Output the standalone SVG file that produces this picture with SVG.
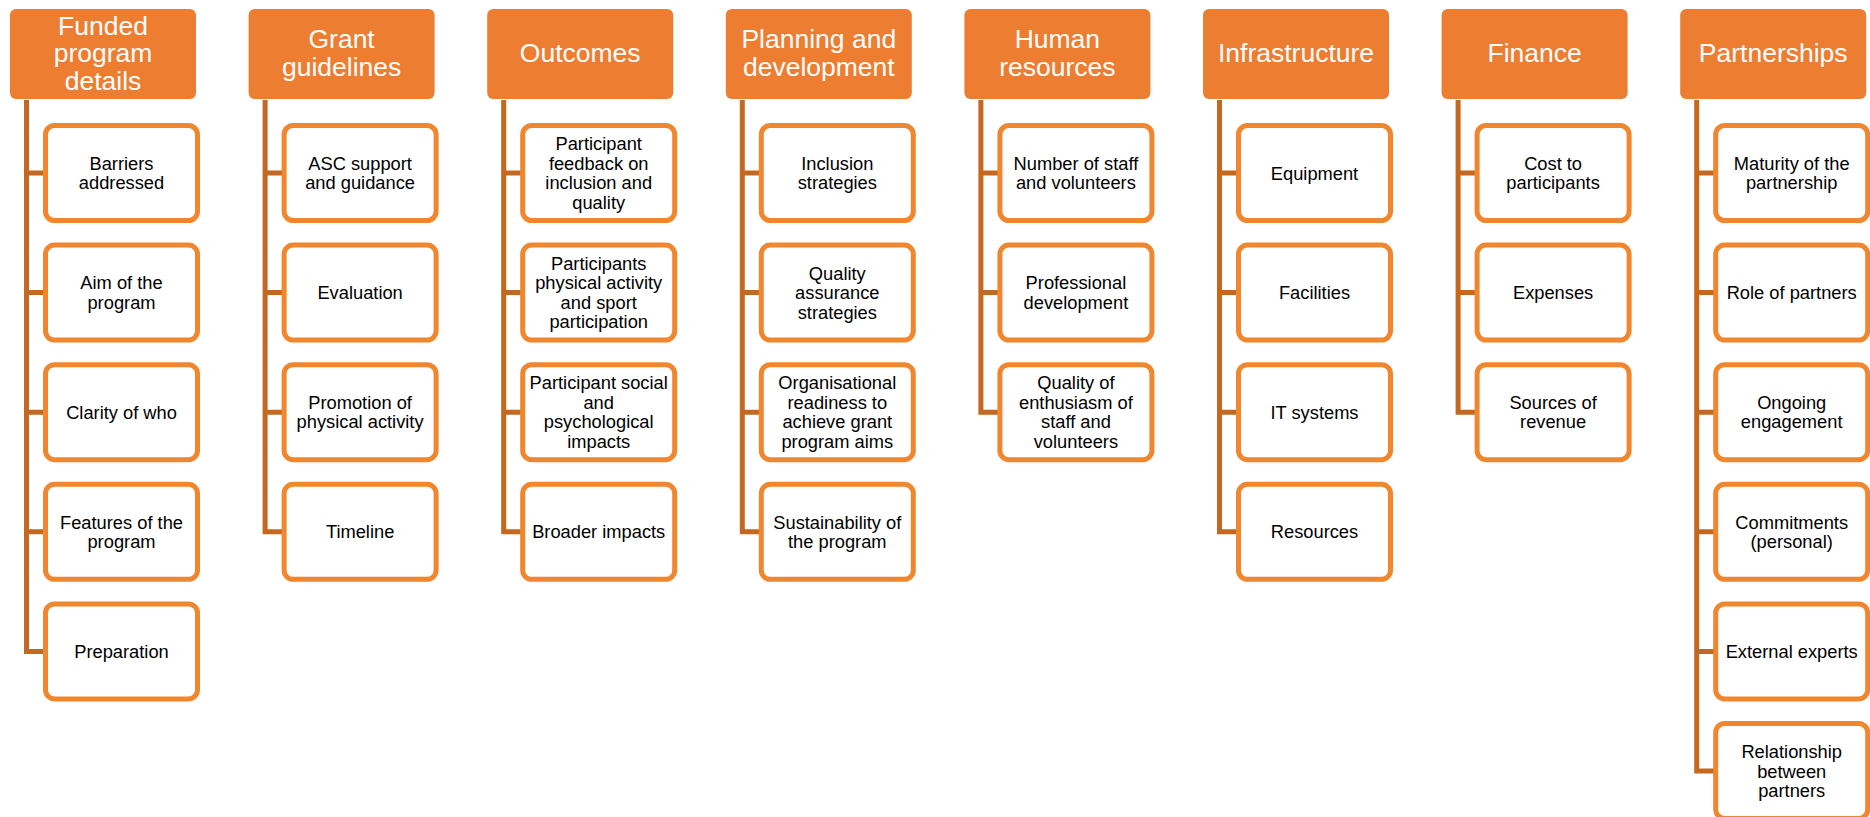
<svg xmlns="http://www.w3.org/2000/svg" width="1870" height="817" viewBox="0 0 1870 817">
  <style>
    .head { fill: #ED7D31; }
    .head-t { fill: #FFFFFF; font-family: "Liberation Sans", Arial, sans-serif; font-size: 26.5px; text-anchor: middle; }
    .item { fill: #FFFFFF; stroke: #F0862E; stroke-width: 5; }
    .item-t { fill: #000000; font-family: "Liberation Sans", Arial, sans-serif; font-size: 18.3px; text-anchor: middle; }
    .link { fill: none; stroke: #C4671F; stroke-width: 5; stroke-linecap: butt; stroke-linejoin: miter; }
  </style>

  <rect width="1870" height="817" fill="#FFFFFF"/>

  <!-- tree lines: one trunk per column, one branch per item -->
  <g id="connectors" class="link">
    <path d="M26.5 100 V653.9 M26.5 173 H46 M26.5 292.6 H46 M26.5 412.2 H46 M26.5 531.8 H46 M26.5 651.4 H46"/>
    <path d="M265.1 100 V534.3 M265.1 173 H285 M265.1 292.6 H285 M265.1 412.2 H285 M265.1 531.8 H285"/>
    <path d="M503.7 100 V534.3 M503.7 173 H523 M503.7 292.6 H523 M503.7 412.2 H523 M503.7 531.8 H523"/>
    <path d="M742.3 100 V534.3 M742.3 173 H762 M742.3 292.6 H762 M742.3 412.2 H762 M742.3 531.8 H762"/>
    <path d="M980.9 100 V414.7 M980.9 173 H1000 M980.9 292.6 H1000 M980.9 412.2 H1000"/>
    <path d="M1219.5 100 V534.3 M1219.5 173 H1239 M1219.5 292.6 H1239 M1219.5 412.2 H1239 M1219.5 531.8 H1239"/>
    <path d="M1458.1 100 V414.7 M1458.1 173 H1478 M1458.1 292.6 H1478 M1458.1 412.2 H1478"/>
    <path d="M1696.7 100 V773.5 M1696.7 173 H1716 M1696.7 292.6 H1716 M1696.7 412.2 H1716 M1696.7 531.8 H1716 M1696.7 651.4 H1716 M1696.7 771 H1716"/>
  </g>

  <!-- Column 1: Funded program details -->
  <g id="funded-program-details">
    <rect class="head" x="10" y="9" width="186" height="90" rx="6"/>
    <text class="head-t"><tspan x="103" y="34.5">Funded</tspan><tspan x="103" dy="27.5">program</tspan><tspan x="103" dy="27.5">details</tspan></text>
  </g>
  <g id="barriers-addressed">
    <rect class="item" x="45.5" y="125.5" width="152" height="95" rx="9"/>
    <text class="item-t"><tspan x="121.5" y="169.75">Barriers</tspan><tspan x="121.5" dy="19.5">addressed</tspan></text>
  </g>
  <g id="aim-of-the-program">
    <rect class="item" x="45.5" y="245.1" width="152" height="95" rx="9"/>
    <text class="item-t"><tspan x="121.5" y="289.35">Aim of the</tspan><tspan x="121.5" dy="19.5">program</tspan></text>
  </g>
  <g id="clarity-of-who">
    <rect class="item" x="45.5" y="364.7" width="152" height="95" rx="9"/>
    <text class="item-t" x="121.5" y="418.7">Clarity of who</text>
  </g>
  <g id="features-of-the-program">
    <rect class="item" x="45.5" y="484.3" width="152" height="95" rx="9"/>
    <text class="item-t"><tspan x="121.5" y="528.55">Features of the</tspan><tspan x="121.5" dy="19.5">program</tspan></text>
  </g>
  <g id="preparation">
    <rect class="item" x="45.5" y="603.9" width="152" height="95" rx="9"/>
    <text class="item-t" x="121.5" y="657.9">Preparation</text>
  </g>

  <!-- Column 2: Grant guidelines -->
  <g id="grant-guidelines">
    <rect class="head" x="248.6" y="9" width="186" height="90" rx="6"/>
    <text class="head-t"><tspan x="341.6" y="48.25">Grant</tspan><tspan x="341.6" dy="27.5">guidelines</tspan></text>
  </g>
  <g id="asc-support">
    <rect class="item" x="284.1" y="125.5" width="152" height="95" rx="9"/>
    <text class="item-t"><tspan x="360.1" y="169.75">ASC support</tspan><tspan x="360.1" dy="19.5">and guidance</tspan></text>
  </g>
  <g id="evaluation">
    <rect class="item" x="284.1" y="245.1" width="152" height="95" rx="9"/>
    <text class="item-t" x="360.1" y="299.1">Evaluation</text>
  </g>
  <g id="promotion-of-physical-activity">
    <rect class="item" x="284.1" y="364.7" width="152" height="95" rx="9"/>
    <text class="item-t"><tspan x="360.1" y="408.95">Promotion of</tspan><tspan x="360.1" dy="19.5">physical activity</tspan></text>
  </g>
  <g id="timeline">
    <rect class="item" x="284.1" y="484.3" width="152" height="95" rx="9"/>
    <text class="item-t" x="360.1" y="538.3">Timeline</text>
  </g>

  <!-- Column 3: Outcomes -->
  <g id="outcomes">
    <rect class="head" x="487.2" y="9" width="186" height="90" rx="6"/>
    <text class="head-t" x="580.2" y="62">Outcomes</text>
  </g>
  <g id="participant-feedback">
    <rect class="item" x="522.7" y="125.5" width="152" height="95" rx="9"/>
    <text class="item-t"><tspan x="598.7" y="150.25">Participant</tspan><tspan x="598.7" dy="19.5">feedback on</tspan><tspan x="598.7" dy="19.5">inclusion and</tspan><tspan x="598.7" dy="19.5">quality</tspan></text>
  </g>
  <g id="participants-physical-activity">
    <rect class="item" x="522.7" y="245.1" width="152" height="95" rx="9"/>
    <text class="item-t"><tspan x="598.7" y="269.85">Participants</tspan><tspan x="598.7" dy="19.5">physical activity</tspan><tspan x="598.7" dy="19.5">and sport</tspan><tspan x="598.7" dy="19.5">participation</tspan></text>
  </g>
  <g id="participant-social-impacts">
    <rect class="item" x="522.7" y="364.7" width="152" height="95" rx="9"/>
    <text class="item-t"><tspan x="598.7" y="389.45">Participant social</tspan><tspan x="598.7" dy="19.5">and</tspan><tspan x="598.7" dy="19.5">psychological</tspan><tspan x="598.7" dy="19.5">impacts</tspan></text>
  </g>
  <g id="broader-impacts">
    <rect class="item" x="522.7" y="484.3" width="152" height="95" rx="9"/>
    <text class="item-t" x="598.7" y="538.3">Broader impacts</text>
  </g>

  <!-- Column 4: Planning and development -->
  <g id="planning-and-development">
    <rect class="head" x="725.8" y="9" width="186" height="90" rx="6"/>
    <text class="head-t"><tspan x="818.8" y="48.25">Planning and</tspan><tspan x="818.8" dy="27.5">development</tspan></text>
  </g>
  <g id="inclusion-strategies">
    <rect class="item" x="761.3" y="125.5" width="152" height="95" rx="9"/>
    <text class="item-t"><tspan x="837.3" y="169.75">Inclusion</tspan><tspan x="837.3" dy="19.5">strategies</tspan></text>
  </g>
  <g id="quality-assurance-strategies">
    <rect class="item" x="761.3" y="245.1" width="152" height="95" rx="9"/>
    <text class="item-t"><tspan x="837.3" y="279.6">Quality</tspan><tspan x="837.3" dy="19.5">assurance</tspan><tspan x="837.3" dy="19.5">strategies</tspan></text>
  </g>
  <g id="organisational-readiness">
    <rect class="item" x="761.3" y="364.7" width="152" height="95" rx="9"/>
    <text class="item-t"><tspan x="837.3" y="389.45">Organisational</tspan><tspan x="837.3" dy="19.5">readiness to</tspan><tspan x="837.3" dy="19.5">achieve grant</tspan><tspan x="837.3" dy="19.5">program aims</tspan></text>
  </g>
  <g id="sustainability-of-the-program">
    <rect class="item" x="761.3" y="484.3" width="152" height="95" rx="9"/>
    <text class="item-t"><tspan x="837.3" y="528.55">Sustainability of</tspan><tspan x="837.3" dy="19.5">the program</tspan></text>
  </g>

  <!-- Column 5: Human resources -->
  <g id="human-resources">
    <rect class="head" x="964.4" y="9" width="186" height="90" rx="6"/>
    <text class="head-t"><tspan x="1057.4" y="48.25">Human</tspan><tspan x="1057.4" dy="27.5">resources</tspan></text>
  </g>
  <g id="number-of-staff">
    <rect class="item" x="999.9" y="125.5" width="152" height="95" rx="9"/>
    <text class="item-t"><tspan x="1075.9" y="169.75">Number of staff</tspan><tspan x="1075.9" dy="19.5">and volunteers</tspan></text>
  </g>
  <g id="professional-development">
    <rect class="item" x="999.9" y="245.1" width="152" height="95" rx="9"/>
    <text class="item-t"><tspan x="1075.9" y="289.35">Professional</tspan><tspan x="1075.9" dy="19.5">development</tspan></text>
  </g>
  <g id="quality-of-enthusiasm">
    <rect class="item" x="999.9" y="364.7" width="152" height="95" rx="9"/>
    <text class="item-t"><tspan x="1075.9" y="389.45">Quality of</tspan><tspan x="1075.9" dy="19.5">enthusiasm of</tspan><tspan x="1075.9" dy="19.5">staff and</tspan><tspan x="1075.9" dy="19.5">volunteers</tspan></text>
  </g>

  <!-- Column 6: Infrastructure -->
  <g id="infrastructure">
    <rect class="head" x="1203" y="9" width="186" height="90" rx="6"/>
    <text class="head-t" x="1296" y="62">Infrastructure</text>
  </g>
  <g id="equipment">
    <rect class="item" x="1238.5" y="125.5" width="152" height="95" rx="9"/>
    <text class="item-t" x="1314.5" y="179.5">Equipment</text>
  </g>
  <g id="facilities">
    <rect class="item" x="1238.5" y="245.1" width="152" height="95" rx="9"/>
    <text class="item-t" x="1314.5" y="299.1">Facilities</text>
  </g>
  <g id="it-systems">
    <rect class="item" x="1238.5" y="364.7" width="152" height="95" rx="9"/>
    <text class="item-t" x="1314.5" y="418.7">IT systems</text>
  </g>
  <g id="resources">
    <rect class="item" x="1238.5" y="484.3" width="152" height="95" rx="9"/>
    <text class="item-t" x="1314.5" y="538.3">Resources</text>
  </g>

  <!-- Column 7: Finance -->
  <g id="finance">
    <rect class="head" x="1441.6" y="9" width="186" height="90" rx="6"/>
    <text class="head-t" x="1534.6" y="62">Finance</text>
  </g>
  <g id="cost-to-participants">
    <rect class="item" x="1477.1" y="125.5" width="152" height="95" rx="9"/>
    <text class="item-t"><tspan x="1553.1" y="169.75">Cost to</tspan><tspan x="1553.1" dy="19.5">participants</tspan></text>
  </g>
  <g id="expenses">
    <rect class="item" x="1477.1" y="245.1" width="152" height="95" rx="9"/>
    <text class="item-t" x="1553.1" y="299.1">Expenses</text>
  </g>
  <g id="sources-of-revenue">
    <rect class="item" x="1477.1" y="364.7" width="152" height="95" rx="9"/>
    <text class="item-t"><tspan x="1553.1" y="408.95">Sources of</tspan><tspan x="1553.1" dy="19.5">revenue</tspan></text>
  </g>

  <!-- Column 8: Partnerships -->
  <g id="partnerships">
    <rect class="head" x="1680.2" y="9" width="186" height="90" rx="6"/>
    <text class="head-t" x="1773.2" y="62">Partnerships</text>
  </g>
  <g id="maturity-of-the-partnership">
    <rect class="item" x="1715.7" y="125.5" width="152" height="95" rx="9"/>
    <text class="item-t"><tspan x="1791.7" y="169.75">Maturity of the</tspan><tspan x="1791.7" dy="19.5">partnership</tspan></text>
  </g>
  <g id="role-of-partners">
    <rect class="item" x="1715.7" y="245.1" width="152" height="95" rx="9"/>
    <text class="item-t" x="1791.7" y="299.1">Role of partners</text>
  </g>
  <g id="ongoing-engagement">
    <rect class="item" x="1715.7" y="364.7" width="152" height="95" rx="9"/>
    <text class="item-t"><tspan x="1791.7" y="408.95">Ongoing</tspan><tspan x="1791.7" dy="19.5">engagement</tspan></text>
  </g>
  <g id="commitments-personal">
    <rect class="item" x="1715.7" y="484.3" width="152" height="95" rx="9"/>
    <text class="item-t"><tspan x="1791.7" y="528.55">Commitments</tspan><tspan x="1791.7" dy="19.5">(personal)</tspan></text>
  </g>
  <g id="external-experts">
    <rect class="item" x="1715.7" y="603.9" width="152" height="95" rx="9"/>
    <text class="item-t" x="1791.7" y="657.9">External experts</text>
  </g>
  <g id="relationship-between-partners">
    <rect class="item" x="1715.7" y="723.5" width="152" height="95" rx="9"/>
    <text class="item-t"><tspan x="1791.7" y="758">Relationship</tspan><tspan x="1791.7" dy="19.5">between</tspan><tspan x="1791.7" dy="19.5">partners</tspan></text>
  </g>
</svg>
